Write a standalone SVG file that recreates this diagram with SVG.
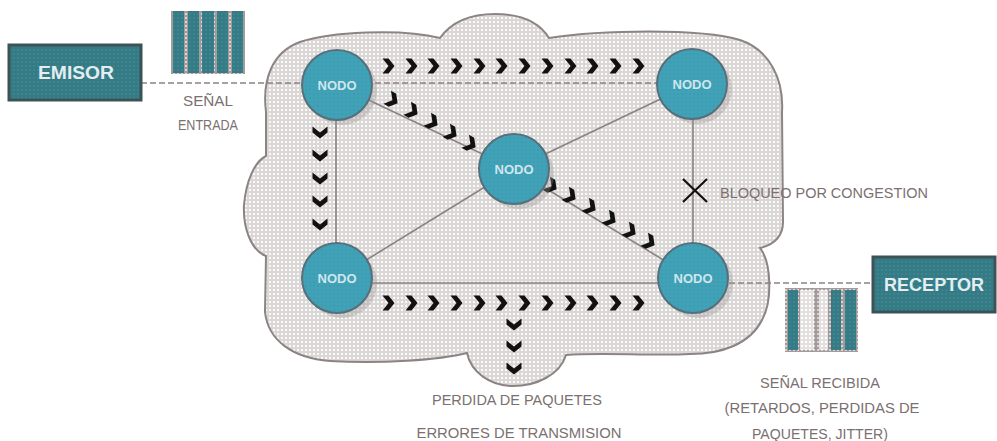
<svg xmlns="http://www.w3.org/2000/svg" width="997" height="441" viewBox="0 0 997 441">
  <defs>
    <pattern id="cloudDots" width="4" height="4" patternUnits="userSpaceOnUse">
      <rect width="4" height="4" fill="#dcd7d7"/>
      <rect x="1" y="1" width="2" height="2" fill="#fafafa"/>
    </pattern>
    <pattern id="nodeDots" width="4" height="4" patternUnits="userSpaceOnUse">
      <rect width="4" height="4" fill="#4b9db0"/>
      <rect x="1" y="1" width="2" height="2" fill="#20a6c8"/>
    </pattern>
    <pattern id="boxDots" width="4" height="4" patternUnits="userSpaceOnUse">
      <rect width="4" height="4" fill="#3f7680"/>
      <rect x="1" y="1" width="2" height="2" fill="#1d929f"/>
    </pattern>
    <pattern id="gapDots" width="4" height="4" patternUnits="userSpaceOnUse">
      <rect width="4" height="4" fill="#a39b9b"/>
      <rect x="1" y="1" width="2" height="2" fill="#d8d4d4"/>
    </pattern>
    <pattern id="lightDots" width="4" height="4" patternUnits="userSpaceOnUse">
      <rect width="4" height="4" fill="#e4e0e0"/>
      <rect x="1" y="1" width="2" height="2" fill="#ffffff"/>
    </pattern>
    <!-- packet chevron pointing right, centred on origin -->
    <path id="chev" d="M -5.5 -7.5 L 0.5 -7.5 L 6.5 0 L 0.5 7.5 L -5.5 7.5 L 0.5 0 Z" fill="#111"/>
  </defs>
  <style>
    .link { stroke: #8a8282; stroke-width: 1.6; fill: none; }
    .lbl { font-family: "Liberation Sans", Arial, sans-serif; font-size: 14px; fill: #7a7070; }
    .nodeC { fill: url(#nodeDots); stroke: #56707a; stroke-width: 2; }
    .shadow { fill: #9c9494; opacity: 0.35; }
    .nodeT { font-family: "Liberation Sans", Arial, sans-serif; font-size: 13px; font-weight: bold; fill: #cfe6ec; text-anchor: middle; }
    .boxR { fill: url(#boxDots); stroke: #3d5257; stroke-width: 3; }
    .boxT { font-family: "Liberation Sans", Arial, sans-serif; font-size: 18px; font-weight: bold; fill: #e2eef0; text-anchor: middle; }
  </style>

  <rect width="997" height="441" fill="#ffffff"/>

  <!-- network cloud -->
  <path id="cloud" d="M 266 112 C 262 80 272 52 300 42 C 330 32 400 28 440 38 C 450 24 466 14 495 14 C 525 14 541 25 549 38 C 600 30 700 28 740 40 C 770 50 784 80 782 112 L 783 222 C 783 238 772 245 760 248 C 771 262 773 300 762 320 C 750 344 722 354 690 354 C 650 356 600 352 566 355 C 560 375 536 386 513 386 C 490 386 471 372 467 353 C 440 360 380 364 330 361 C 292 358 268 340 265 312 L 266 256 C 250 250 243 226 244 205 C 246 182 254 162 266 156 Z" fill="url(#cloudDots)" stroke="#8c8484" stroke-width="2"/>

  <!-- links between nodes and end points -->
  <g id="connectors">
    <line class="link" x1="141" y1="83" x2="692" y2="83" stroke-dasharray="6 3"/>
    <line class="link" x1="336" y1="85" x2="336" y2="278"/>
    <line class="link" x1="693" y1="84" x2="693" y2="278"/>
    <line class="link" x1="337" y1="283" x2="693" y2="283"/>
    <line class="link" x1="693" y1="283" x2="872" y2="283" stroke-dasharray="6 3"/>
    <line class="link" x1="337" y1="85" x2="514" y2="169"/>
    <line class="link" x1="514" y1="169" x2="693" y2="278"/>
    <line class="link" x1="692" y1="84" x2="514" y2="169"/>
    <line class="link" x1="337" y1="278" x2="514" y2="169"/>
    <!-- blocked link mark -->
    <path d="M 683 179 L 707 202 M 707 179 L 683 202" stroke="#111" stroke-width="2.2" fill="none"/>
  </g>

  <!-- packet flows -->
  <g id="packets">
    <use href="#chev" x="388" y="66"/>
    <use href="#chev" x="411" y="66"/>
    <use href="#chev" x="433" y="66"/>
    <use href="#chev" x="456" y="66"/>
    <use href="#chev" x="479" y="66"/>
    <use href="#chev" x="501" y="66"/>
    <use href="#chev" x="524" y="66"/>
    <use href="#chev" x="547" y="66"/>
    <use href="#chev" x="570" y="66"/>
    <use href="#chev" x="592" y="66"/>
    <use href="#chev" x="615" y="66"/>
    <use href="#chev" x="638" y="66"/>

    <use href="#chev" x="388" y="303"/>
    <use href="#chev" x="411" y="303"/>
    <use href="#chev" x="433" y="303"/>
    <use href="#chev" x="456" y="303"/>
    <use href="#chev" x="479" y="303"/>
    <use href="#chev" x="501" y="303"/>
    <use href="#chev" x="524" y="303"/>
    <use href="#chev" x="547" y="303"/>
    <use href="#chev" x="570" y="303"/>
    <use href="#chev" x="592" y="303"/>
    <use href="#chev" x="615" y="303"/>
    <use href="#chev" x="638" y="303"/>

    <use href="#chev" transform="translate(514 324) rotate(90)"/>
    <use href="#chev" transform="translate(514 346) rotate(90)"/>
    <use href="#chev" transform="translate(514 368) rotate(90)"/>

    <use href="#chev" transform="translate(320 132) rotate(90)"/>
    <use href="#chev" transform="translate(320 155) rotate(90)"/>
    <use href="#chev" transform="translate(320 178) rotate(90)"/>
    <use href="#chev" transform="translate(320 201) rotate(90)"/>
    <use href="#chev" transform="translate(320 224) rotate(90)"/>

    <use href="#chev" transform="translate(392 100) rotate(30)"/>
    <use href="#chev" transform="translate(412 111) rotate(30)"/>
    <use href="#chev" transform="translate(432 122) rotate(30)"/>
    <use href="#chev" transform="translate(451 133) rotate(30)"/>
    <use href="#chev" transform="translate(470 144) rotate(30)"/>

    <use href="#chev" transform="translate(551 186) rotate(30)"/>
    <use href="#chev" transform="translate(570 196) rotate(30)"/>
    <use href="#chev" transform="translate(590 207) rotate(30)"/>
    <use href="#chev" transform="translate(610 219) rotate(30)"/>
    <use href="#chev" transform="translate(630 231) rotate(30)"/>
    <use href="#chev" transform="translate(649 242) rotate(30)"/>
  </g>

  <!-- network nodes -->
  <g id="node-tl">
    <circle class="shadow" cx="342" cy="90" r="35"/>
    <circle class="nodeC" cx="337" cy="85" r="35"/>
    <text class="nodeT" x="337" y="90">NODO</text>
  </g>
  <g id="node-tr">
    <circle class="shadow" cx="697" cy="89" r="35"/>
    <circle class="nodeC" cx="692" cy="84" r="35"/>
    <text class="nodeT" x="692" y="89">NODO</text>
  </g>
  <g id="node-c">
    <circle class="shadow" cx="519" cy="174" r="35"/>
    <circle class="nodeC" cx="514" cy="169" r="35"/>
    <text class="nodeT" x="514" y="174">NODO</text>
  </g>
  <g id="node-bl">
    <circle class="shadow" cx="342" cy="283" r="35"/>
    <circle class="nodeC" cx="337" cy="278" r="35"/>
    <text class="nodeT" x="337" y="283">NODO</text>
  </g>
  <g id="node-br">
    <circle class="shadow" cx="698" cy="283" r="35"/>
    <circle class="nodeC" cx="693" cy="278" r="35"/>
    <text class="nodeT" x="693" y="283">NODO</text>
  </g>

  <!-- end points -->
  <g id="emisor">
    <rect class="boxR" x="9" y="45" width="132" height="55"/>
    <text class="boxT" x="76" y="79" textLength="76" lengthAdjust="spacingAndGlyphs">EMISOR</text>
  </g>
  <g id="receptor">
    <rect class="boxR" x="873" y="257" width="122" height="55"/>
    <text class="boxT" x="934" y="291" textLength="100" lengthAdjust="spacingAndGlyphs">RECEPTOR</text>
  </g>

  <!-- input signal -->
  <g id="signal-in">
    <rect x="171" y="11" width="74" height="63" fill="url(#gapDots)"/>
    <rect x="173" y="11" width="11" height="62" fill="url(#boxDots)"/>
    <rect x="188" y="11" width="11" height="62" fill="url(#boxDots)"/>
    <rect x="202" y="11" width="12" height="62" fill="url(#boxDots)"/>
    <rect x="217" y="11" width="11" height="62" fill="url(#boxDots)"/>
    <rect x="232" y="11" width="11" height="62" fill="url(#boxDots)"/>
    <text class="lbl" x="208" y="106" text-anchor="middle" font-size="12" textLength="50" lengthAdjust="spacingAndGlyphs">SEÑAL</text>
    <text class="lbl" x="208" y="130" text-anchor="middle" font-size="12" textLength="60" lengthAdjust="spacingAndGlyphs">ENTRADA</text>
  </g>

  <!-- received signal -->
  <g id="signal-out">
    <rect x="785" y="288" width="73" height="64" fill="url(#gapDots)"/>
    <rect x="788" y="290" width="10" height="60" fill="url(#boxDots)"/>
    <rect x="800" y="290" width="14" height="60" fill="url(#lightDots)"/>
    <rect x="819" y="290" width="9" height="60" fill="url(#lightDots)"/>
    <rect x="831" y="290" width="10" height="60" fill="url(#boxDots)"/>
    <rect x="845" y="290" width="11" height="60" fill="url(#boxDots)"/>
    <text class="lbl" x="820" y="388" text-anchor="middle" font-size="13" textLength="120" lengthAdjust="spacingAndGlyphs">SEÑAL RECIBIDA</text>
    <text class="lbl" x="822" y="413" text-anchor="middle" font-size="13" textLength="195" lengthAdjust="spacingAndGlyphs">(RETARDOS, PERDIDAS DE</text>
    <text class="lbl" x="820" y="439" text-anchor="middle" font-size="13" textLength="136" lengthAdjust="spacingAndGlyphs">PAQUETES, JITTER)</text>
  </g>

  <!-- loss and congestion labels -->
  <text class="lbl" x="720" y="198" font-size="13" textLength="208" lengthAdjust="spacingAndGlyphs">BLOQUEO POR CONGESTION</text>
  <text class="lbl" x="517" y="405" text-anchor="middle" font-size="13" textLength="170" lengthAdjust="spacingAndGlyphs">PERDIDA DE PAQUETES</text>
  <text class="lbl" x="519" y="438" text-anchor="middle" font-size="13" textLength="205" lengthAdjust="spacingAndGlyphs">ERRORES DE TRANSMISION</text>
</svg>
